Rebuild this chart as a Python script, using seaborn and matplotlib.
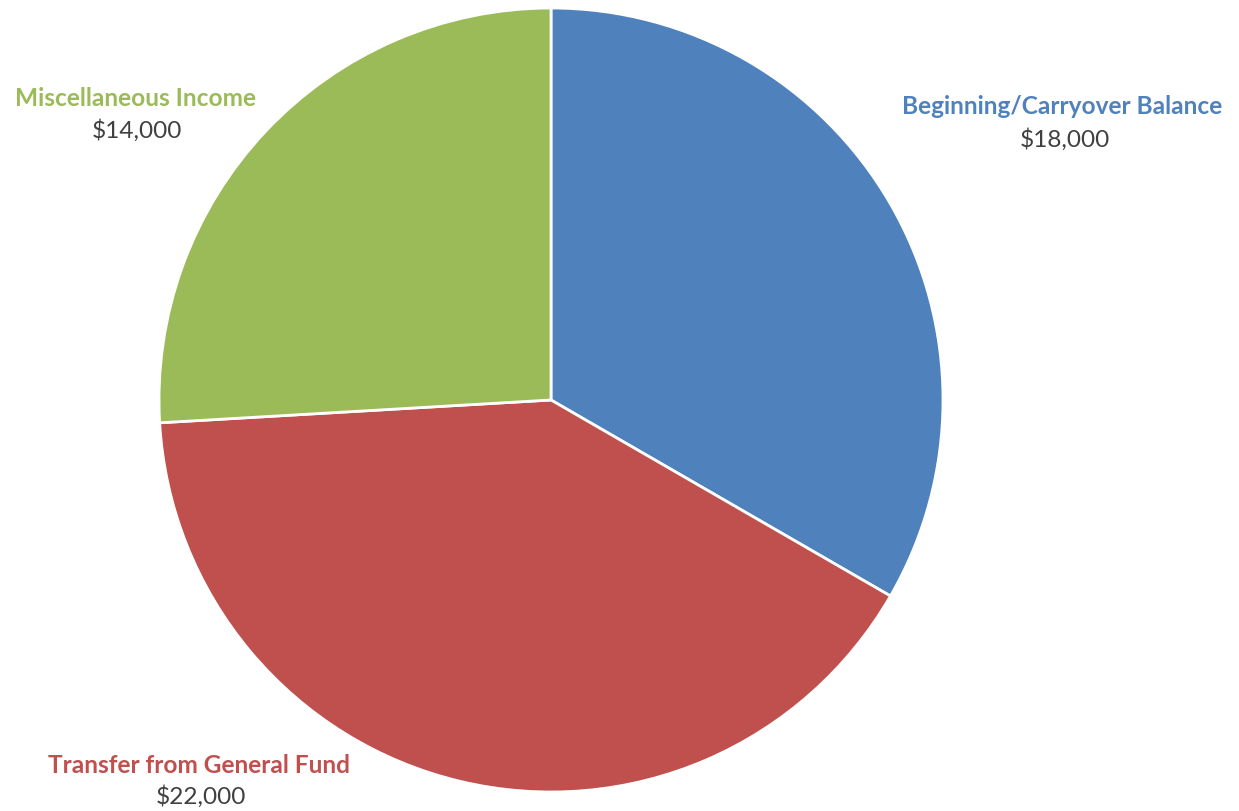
import matplotlib
matplotlib.use("Agg")
import matplotlib.pyplot as plt
import seaborn as sns

categories = ["Beginning/Carryover Balance", "Transfer from General Fund", "Miscellaneous Income"]
values = [18000, 22000, 14000]
value_labels = ["$18,000", "$22,000", "$14,000"]
colors = ["#4F81BD", "#C0504D", "#9BBB59"]

sns.set_theme(style="white")
plt.rcParams["font.family"] = ["Lato", "DejaVu Sans"]

W, H = 1239, 812
fig = plt.figure(figsize=(W / 100, H / 100), dpi=100)
cx, cy, r = 551, 401, 392
ax = fig.add_axes([(cx - r) / W, (H - cy - r) / H, 2 * r / W, 2 * r / H])
ax.pie(values, colors=colors, startangle=90, counterclock=False,
       wedgeprops=dict(edgecolor="white", linewidth=2), radius=1)
ax.set_xlim(-1, 1)
ax.set_ylim(-1, 1)
ax.set_aspect("equal")
ax.axis("off")

def to_data(px, py):
    return (px - cx) / r, (cy - py) / r

label_pos = [(1062, 107), (199, 766), (135, 99)]
value_pos = [(1065, 140), (201, 797), (137, 131)]
for cat, val, col, lp, vp in zip(categories, value_labels, colors, label_pos, value_pos):
    x, y = to_data(*lp)
    ax.text(x, y, cat, color=col, fontsize=17.6, fontweight="bold",
            ha="center", va="center", clip_on=False)
    x, y = to_data(*vp)
    ax.text(x, y, val, color="#404040", fontsize=17.6,
            ha="center", va="center", clip_on=False)

fig.savefig("out.png", dpi=100)
